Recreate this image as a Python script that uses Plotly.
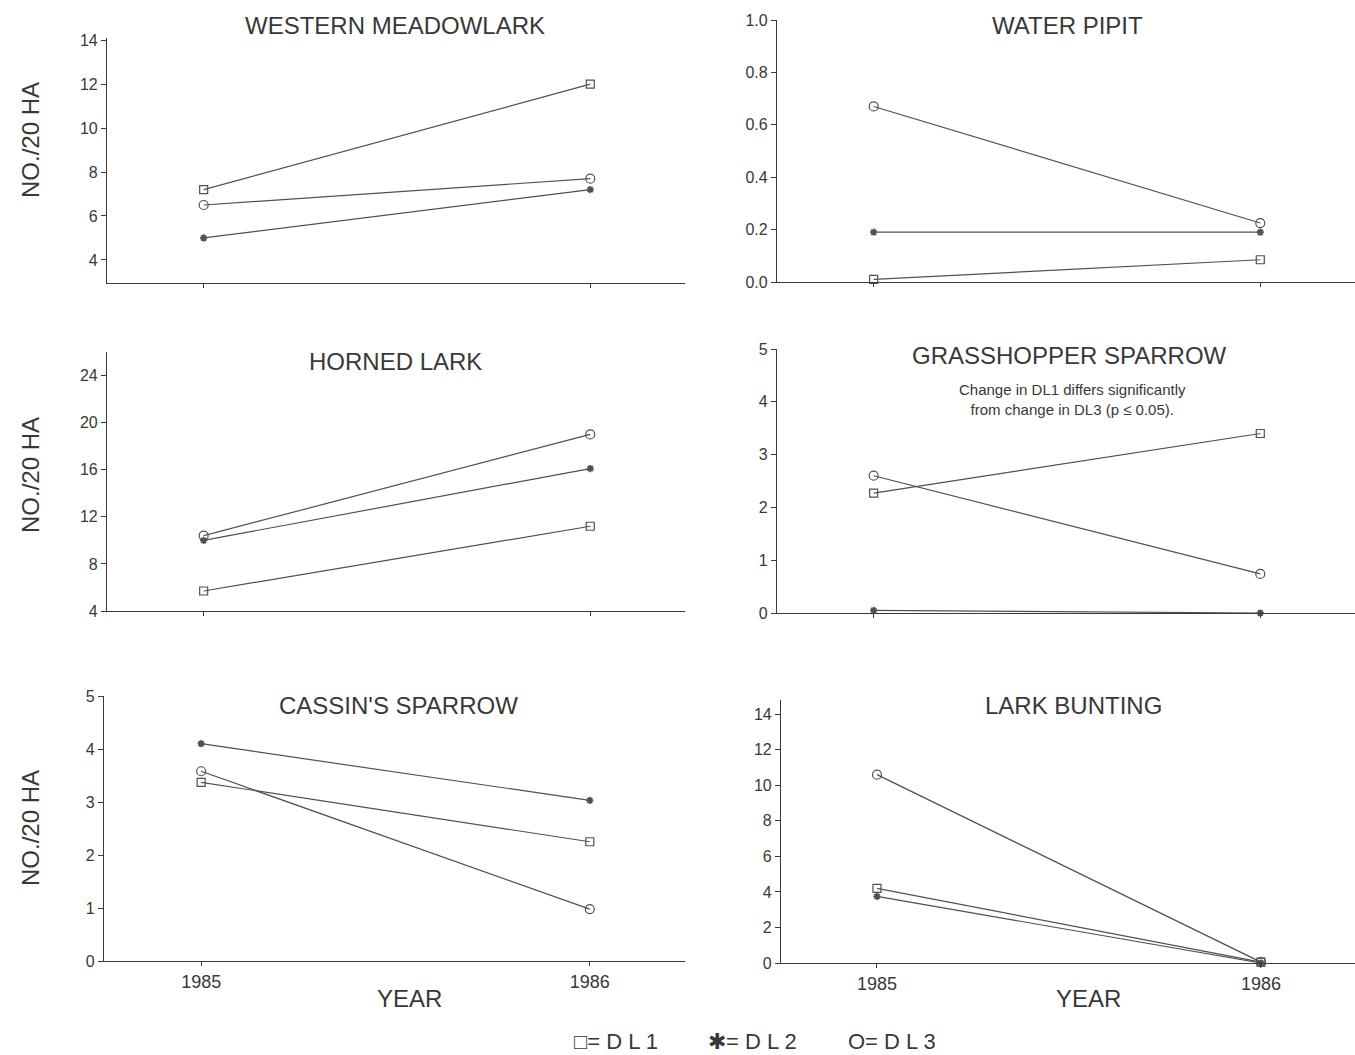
import plotly.graph_objects as go

years = [1985, 1986]

titles = ["WESTERN MEADOWLARK", "WATER PIPIT", "HORNED LARK",
          "GRASSHOPPER SPARROW", "CASSIN'S SPARROW", "LARK BUNTING"]

wm_dl1 = [7.2, 12.0]
wm_dl2 = [5.0, 7.2]
wm_dl3 = [6.5, 7.7]

wp_dl1 = [0.01, 0.085]
wp_dl2 = [0.19, 0.19]
wp_dl3 = [0.67, 0.225]

hl_dl1 = [5.7, 11.2]
hl_dl2 = [10.0, 16.1]
hl_dl3 = [10.4, 19.0]

gs_dl1 = [2.27, 3.4]
gs_dl2 = [0.05, 0.0]
gs_dl3 = [2.6, 0.74]

cs_dl1 = [3.37, 2.25]
cs_dl2 = [4.1, 3.03]
cs_dl3 = [3.58, 0.98]

lb_dl1 = [4.2, 0.05]
lb_dl2 = [3.75, 0.0]
lb_dl3 = [10.6, 0.05]

series = [
    (wm_dl1, wm_dl2, wm_dl3),
    (wp_dl1, wp_dl2, wp_dl3),
    (hl_dl1, hl_dl2, hl_dl3),
    (gs_dl1, gs_dl2, gs_dl3),
    (cs_dl1, cs_dl2, cs_dl3),
    (lb_dl1, lb_dl2, lb_dl3),
]

y_ranges = [[2.95, 14.1], [0, 1.0], [4, 26], [0, 5], [0, 5], [0, 14.8]]
y_ticks = [[4, 6, 8, 10, 12, 14], [0, 0.2, 0.4, 0.6, 0.8, 1.0], [4, 8, 12, 16, 20, 24],
           [0, 1, 2, 3, 4, 5], [0, 1, 2, 3, 4, 5], [0, 2, 4, 6, 8, 10, 12, 14]]

W, H = 1355, 1055
# pixel boxes: (left, right, top, bottom)
boxes = [
    (107, 685, 38, 283),
    (777, 1355, 20, 282),
    (107, 685, 352, 611),
    (777, 1355, 349, 613),
    (104, 685, 696, 961),
    (781, 1355, 700, 963),
]

LINE = "#505050"
AX = "#3a3a3a"
TXT = "#383838"
FONT = "Liberation Sans, Arial, sans-serif"

fig = go.Figure()
layout = dict(width=W, height=H,
              margin=dict(l=0, r=0, t=0, b=0, pad=0, autoexpand=False),
              paper_bgcolor="white", plot_bgcolor="white", showlegend=False,
              font=dict(family=FONT, color=TXT))

markers = [
    dict(symbol="square-open", size=8, color=LINE, line=dict(width=1.2, color=LINE)),
    dict(symbol="asterisk-open", size=6, color=LINE, line=dict(width=1.8, color=LINE)),
    dict(symbol="circle-open", size=9, color=LINE, line=dict(width=1.2, color=LINE)),
]

for i in range(6):
    n = "" if i == 0 else str(i + 1)
    l, r, t, b = boxes[i]
    bottom_row = i >= 4
    layout["xaxis" + n] = dict(
        domain=[l / W, r / W], range=[1984.75, 1986.245], anchor="y" + n,
        showgrid=False, zeroline=False, showline=True, linecolor=AX, linewidth=1.2,
        tickvals=years, ticktext=[str(v) for v in years] if bottom_row else ["", ""],
        ticks="outside", ticklen=4, tickcolor=AX, automargin=False,
        tickfont=dict(size=18, color=TXT, family=FONT),
    )
    layout["yaxis" + n] = dict(
        domain=[1 - b / H, 1 - t / H], range=y_ranges[i], anchor="x" + n,
        showgrid=False, zeroline=False, showline=True, linecolor=AX, linewidth=1.2,
        tickvals=y_ticks[i], ticks="outside", ticklen=5, tickcolor=AX, automargin=False,
        tickformat=".1f" if i == 1 else "d",
        tickfont=dict(size=16, color=TXT, family=FONT),
    )
    for k, vals in enumerate(series[i]):
        fig.add_trace(go.Scatter(
            x=years, y=vals, mode="lines+markers", xaxis="x" + n, yaxis="y" + n,
            line=dict(color=LINE, width=1.2), marker=markers[k], cliponaxis=False,
            name=["DL1", "DL2", "DL3"][k],
        ))

fig.update_layout(**layout)

title_pos = [(395, 25), (1067, 25), (395, 361), (1069, 356), (398, 705), (1073, 705)]
for (x, y), ttl in zip(title_pos, titles):
    fig.add_annotation(text=ttl, x=x / W, y=1 - y / H, xref="paper", yref="paper",
                       showarrow=False, xanchor="center", yanchor="middle",
                       font=dict(size=24, color=TXT, family=FONT))

fig.add_annotation(text="Change in DL1 differs significantly<br>from change in DL3 (p \u2264 0.05).",
                   x=1072 / W, y=1 - 399 / H, xref="paper", yref="paper", showarrow=False,
                   xanchor="center", yanchor="middle", align="center",
                   font=dict(size=15, color=TXT, family=FONT))

for yc in (140, 475, 828):
    fig.add_annotation(text="NO./20 HA", x=30 / W, y=1 - yc / H, xref="paper", yref="paper",
                       showarrow=False, textangle=-90, xanchor="center", yanchor="middle",
                       font=dict(size=24, color=TXT, family=FONT))

for xc in (409, 1088):
    fig.add_annotation(text="YEAR", x=xc / W, y=1 - 998 / H, xref="paper", yref="paper",
                       showarrow=False, xanchor="center", yanchor="middle",
                       font=dict(size=24, color=TXT, family=FONT))

legend_items = [("\u25a1= D L 1", 616), ("\u2731= D L 2", 752), ("O= D L 3", 892)]
for txt, xc in legend_items:
    fig.add_annotation(text=txt, x=xc / W, y=1 - 1041 / H, xref="paper", yref="paper",
                       showarrow=False, xanchor="center", yanchor="middle",
                       font=dict(size=22, color=TXT, family=FONT))

fig.write_html("out.html")
